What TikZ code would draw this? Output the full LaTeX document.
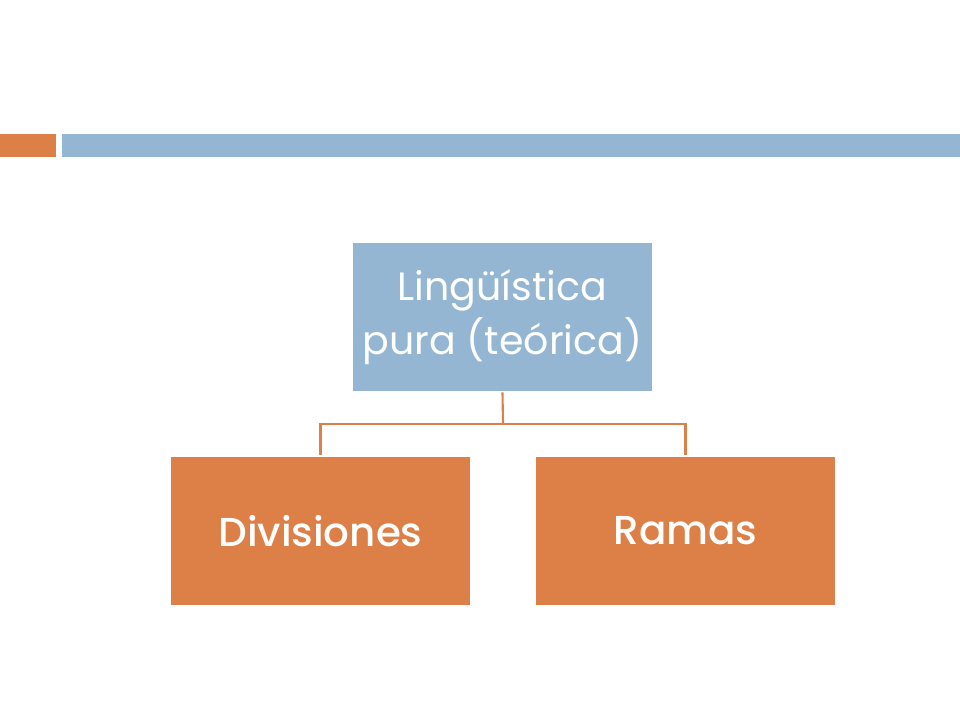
\documentclass[tikz,border=0pt]{standalone}
\usepackage{fontspec}
\setmainfont{Poppins}
\newfontfamily\medfont{Poppins Medium}
\definecolor{barblue}{HTML}{94B6D2}
\definecolor{barorange}{HTML}{DD8047}
\tikzset{
  topbox/.style={fill=barblue, minimum width=5.98cm, minimum height=2.96cm, inner sep=0pt,
    text=white, align=center, font=\fontsize{22.5}{30.5}\selectfont},
  subbox/.style={fill=barorange, minimum width=5.98cm, minimum height=2.96cm, inner sep=0pt,
    text=white, font=\fontsize{23}{30}\selectfont\medfont},
  link/.style={draw=barorange, line width=1.2pt}
}
\begin{document}
\begin{tikzpicture}[x=0.02cm, y=-0.02cm]
\useasboundingbox (0,0) rectangle (960,720);
\fill[barorange](0,134) rectangle (56,157);
\fill[barblue](62,134) rectangle (960,157);
\node[topbox] (ling) at (502.5,317) {Lingüística\\pura (teórica)};
\node[subbox] (div) at (320.5,531) {Divisiones};
\node[subbox] (ram) at (685.5,531) {Ramas};
\coordinate (fork) at (503,424);
\draw[link] ([yshift=-0.02cm]ling.south) -- (fork);
\draw[link] (fork) -| ([yshift=0.04cm]div.north);
\draw[link] (fork) -| ([yshift=0.04cm]ram.north);
\end{tikzpicture}
\end{document}
